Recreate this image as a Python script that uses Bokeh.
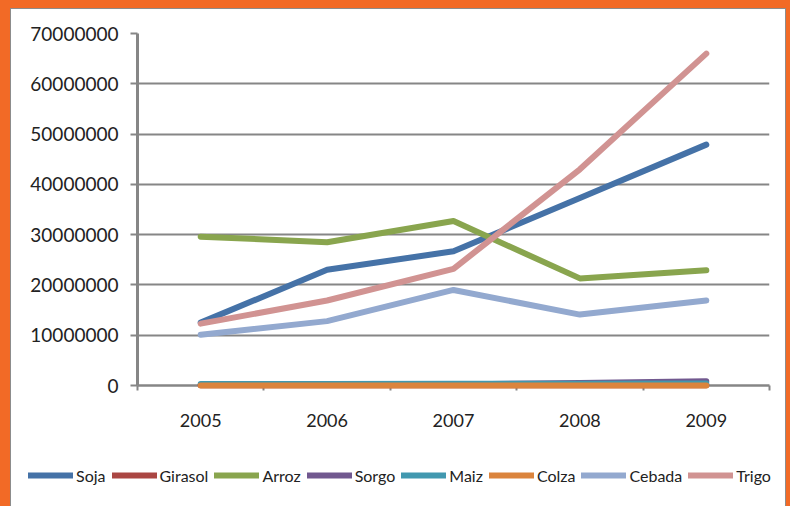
from bokeh.plotting import figure
from bokeh.models import FixedTicker, Legend, BasicTickFormatter
from bokeh.layouts import column
from bokeh.embed import file_html
from bokeh.resources import INLINE

years = ["2005", "2006", "2007", "2008", "2009"]
soja = [12500000, 23000000, 26700000, 37300000, 47900000]
girasol = [50000, 50000, 50000, 50000, 50000]
arroz = [29600000, 28500000, 32700000, 21300000, 22900000]
sorgo = [100000, 150000, 200000, 500000, 850000]
maiz = [300000, 300000, 350000, 350000, 400000]
colza = [20000, 20000, 20000, 20000, 20000]
cebada = [10100000, 12800000, 19000000, 14100000, 16900000]
trigo = [12300000, 16900000, 23200000, 43000000, 66000000]

series_names = ["Soja", "Girasol", "Arroz", "Sorgo", "Maiz", "Colza", "Cebada", "Trigo"]
series_vals = [soja, girasol, arroz, sorgo, maiz, colza, cebada, trigo]
colors = ["#4572A7", "#AA4643", "#89A54E", "#71588F", "#4198AF", "#DB843D", "#93A9CF", "#D19392"]

y_ticks = [0, 10000000, 20000000, 30000000, 40000000, 50000000, 60000000, 70000000]

xs = [i + 0.5 for i in range(len(years))]
bounds = list(range(len(years) + 1))

GRAY = "#868686"
FONT = "Lato"

p = figure(width=774, height=445, output_backend="svg", toolbar_location=None,
           x_range=(0, len(years)), y_range=(0, 70000000),
           min_border_left=126, min_border_right=16, min_border_top=24, min_border_bottom=69,
           background_fill_color="white", border_fill_color="white")
p.outline_line_color = None
p.frame_align = False

for name, vals, c in zip(series_names, series_vals, colors):
    p.line(xs, vals, line_width=6, line_color=c, line_cap="round", line_join="round",
           level="overlay")

# x axis
xa = p.xaxis[0]
xa.ticker = FixedTicker(ticks=xs, minor_ticks=bounds)
xa.major_label_overrides = {x: y for x, y in zip(xs, years)}
xa.major_tick_line_color = None
xa.major_tick_out = 5
xa.major_tick_in = 0
xa.minor_tick_line_color = GRAY
xa.minor_tick_line_width = 2
xa.minor_tick_out = 5
xa.minor_tick_in = 0
xa.axis_line_color = GRAY
xa.axis_line_width = 2.5
xa.major_label_text_font = FONT
xa.major_label_text_font_size = "18px"
xa.major_label_text_color = "#222222"
xa.major_label_standoff = 23

# y axis
ya = p.yaxis[0]
ya.ticker = FixedTicker(ticks=y_ticks)
ya.formatter = BasicTickFormatter(use_scientific=False)
ya.major_tick_line_color = GRAY
ya.major_tick_line_width = 2
ya.major_tick_out = 7
ya.major_tick_in = 0
ya.minor_tick_line_color = None
ya.axis_line_color = GRAY
ya.axis_line_width = 3
ya.major_label_text_font = FONT
ya.major_label_text_font_size = "19px"
ya.major_label_text_color = "#222222"
ya.major_label_standoff = 12

p.xgrid.grid_line_color = None
p.ygrid.grid_line_color = GRAY
p.ygrid.grid_line_width = 2

# legend strip (series drawn out of view; only their legend keys show)
p2 = figure(width=774, height=52, output_backend="svg", toolbar_location=None,
            x_range=(0, len(years)), y_range=(-1, 0), x_axis_location=None, y_axis_location=None,
            min_border=0, background_fill_color="white", border_fill_color="white")
p2.outline_line_color = None
p2.frame_align = False
p2.xgrid.grid_line_color = None
p2.ygrid.grid_line_color = None
items = []
for name, vals, c in zip(series_names, series_vals, colors):
    r = p2.line(xs, vals, line_width=6, line_color=c, line_cap="round")
    items.append((name, [r]))

legend = Legend(items=items, orientation="horizontal", location=(17, 21),
                padding=0, margin=0, spacing=6, label_standoff=3,
                glyph_width=45, glyph_height=20,
                label_text_font=FONT, label_text_font_size="16px", label_text_color="#222222",
                border_line_color=None, background_fill_alpha=0)
p2.add_layout(legend, "center")

white = column(p, p2, spacing=0, margin=(1, 1, 0, 1), styles={"background-color": "white"})
inner = column(white, margin=(8, 4, 0, 10), styles={"background-color": "#8c8c8c"})
outer = column(inner, styles={"background-color": "#F26A26"})

open("out.html", "w").write(file_html(outer, INLINE))
